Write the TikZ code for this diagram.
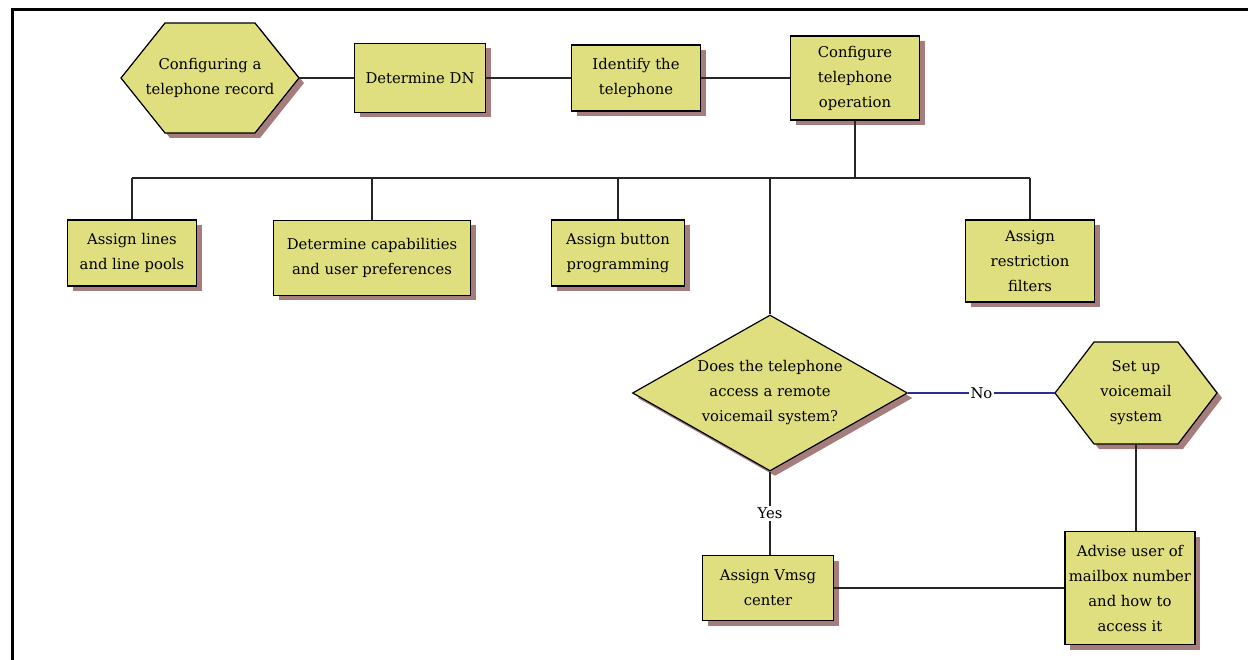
\documentclass[tikz,border=0pt]{standalone}
\usepackage{fontspec}
\setmainfont{DejaVu Serif}
\usetikzlibrary{shapes.geometric,shadows}
\definecolor{boxfill}{RGB}{224,223,128}
\definecolor{shadowc}{RGB}{165,125,125}
\definecolor{nolink}{RGB}{45,45,150}
\newcommand\nodefont{\fontsize{14.8}{25}\selectfont}
\newcommand\hexbg[5]{% cx cy halfwidth halfheight inset
  \fill[fill=shadowc] ({#1-#3+5},{#2+5}) -- ({#1-#3+#5+5},{#2-#4+5}) -- ({#1+#3-#5+5},{#2-#4+5}) -- ({#1+#3+5},{#2+5}) -- ({#1+#3-#5+5},{#2+#4+5}) -- ({#1-#3+#5+5},{#2+#4+5}) -- cycle;
  \filldraw[fill=boxfill, draw=black, line width=1.2pt, line join=miter] ({#1-#3},{#2}) -- ({#1-#3+#5},{#2-#4}) -- ({#1+#3-#5},{#2-#4}) -- ({#1+#3},{#2}) -- ({#1+#3-#5},{#2+#4}) -- ({#1-#3+#5},{#2+#4}) -- cycle;
}
\tikzset{
  box/.style={draw=black, line width=1.2pt, fill=boxfill, align=center, inner sep=0pt, font=\nodefont,
    drop shadow={shadow xshift=5pt, shadow yshift=-5pt, fill=shadowc, opacity=1}},
  hexnode/.style={draw=none, align=center, inner sep=0pt, font=\nodefont},
  decision/.style={diamond, aspect=1.76, draw=black, line width=1.2pt, fill=boxfill, align=center, inner sep=0pt, font=\nodefont,
    drop shadow={shadow xshift=5pt, shadow yshift=-5pt, fill=shadowc, opacity=1}},
  conn/.style={draw=black!85, line width=1.3pt},
  noconn/.style={draw=nolink, line width=1.3pt},
  lbl/.style={fill=white, font=\nodefont, inner sep=2pt},
}
\begin{document}
\begin{tikzpicture}[x=1pt, y=-1pt]
\useasboundingbox (0,0) rectangle (1248,660);
% frame
\draw[line width=3pt] (12,662) -- (12,10) -- (1250,10);

% top row
\hexbg{210}{78}{89}{55}{44}
\node[hexnode, minimum width=178, minimum height=110] (h1) at (210,78) {Configuring a\\telephone record};
\node[box, minimum width=131, minimum height=69] (dn) at (420,78) {Determine DN};
\node[box, minimum width=129, minimum height=66] (idt) at (636,78) {Identify the\\telephone};
\node[box, minimum width=129, minimum height=84] (cfg) at (855,78) {Configure\\telephone\\operation};

% second row
\node[box, minimum width=129, minimum height=66] (al) at (132,253) {Assign lines\\and line pools};
\node[box, minimum width=197, minimum height=75] (dc) at (372,258) {Determine capabilities\\and user preferences};
\node[box, minimum width=133, minimum height=66] (abp) at (618,253) {Assign button\\programming};
\node[box, minimum width=129, minimum height=82] (arf) at (1030,261) {Assign\\restriction\\filters};

% decision
\node[decision, minimum width=275, minimum height=156] (dia) at (770,393) {Does the telephone\\access a remote\\voicemail system?};

% set up voicemail
\hexbg{1136}{393}{81}{51}{39}
\node[hexnode, minimum width=162, minimum height=102] (sv) at (1136,393) {Set up\\voicemail\\system};

% bottom
\node[box, minimum width=131, minimum height=65] (vm) at (768,588) {Assign Vmsg\\center};
\node[box, minimum width=130, minimum height=113] (adv) at (1130,588) {Advise user of\\mailbox number\\and how to\\access it};

% connectors
\coordinate (bus) at (855,178);
\draw[conn] (h1.east) -- (dn.west);
\draw[conn] (dn.east) -- (idt.west);
\draw[conn] (idt.east) -- (cfg.west);
\draw[conn] (cfg.south) -- (bus);
\draw[conn] (al.north |- bus) -- (arf.north |- bus);
\draw[conn] (al.north) -- (al.north |- bus);
\draw[conn] (dc.north) -- (dc.north |- bus);
\draw[conn] (abp.north) -- (abp.north |- bus);
\draw[conn] (arf.north) -- (arf.north |- bus);
\draw[conn] (dia.north) -- (dia.north |- bus);
\draw[noconn] (dia.east) -- node[lbl] {No} (sv.west);
\draw[conn] (dia.south) -- node[lbl] {Yes} (dia.south |- vm.north);
\draw[conn] (sv.south) -- (sv.south |- adv.north);
\draw[conn] (vm.east) -- (adv.west);
\end{tikzpicture}
\end{document}
